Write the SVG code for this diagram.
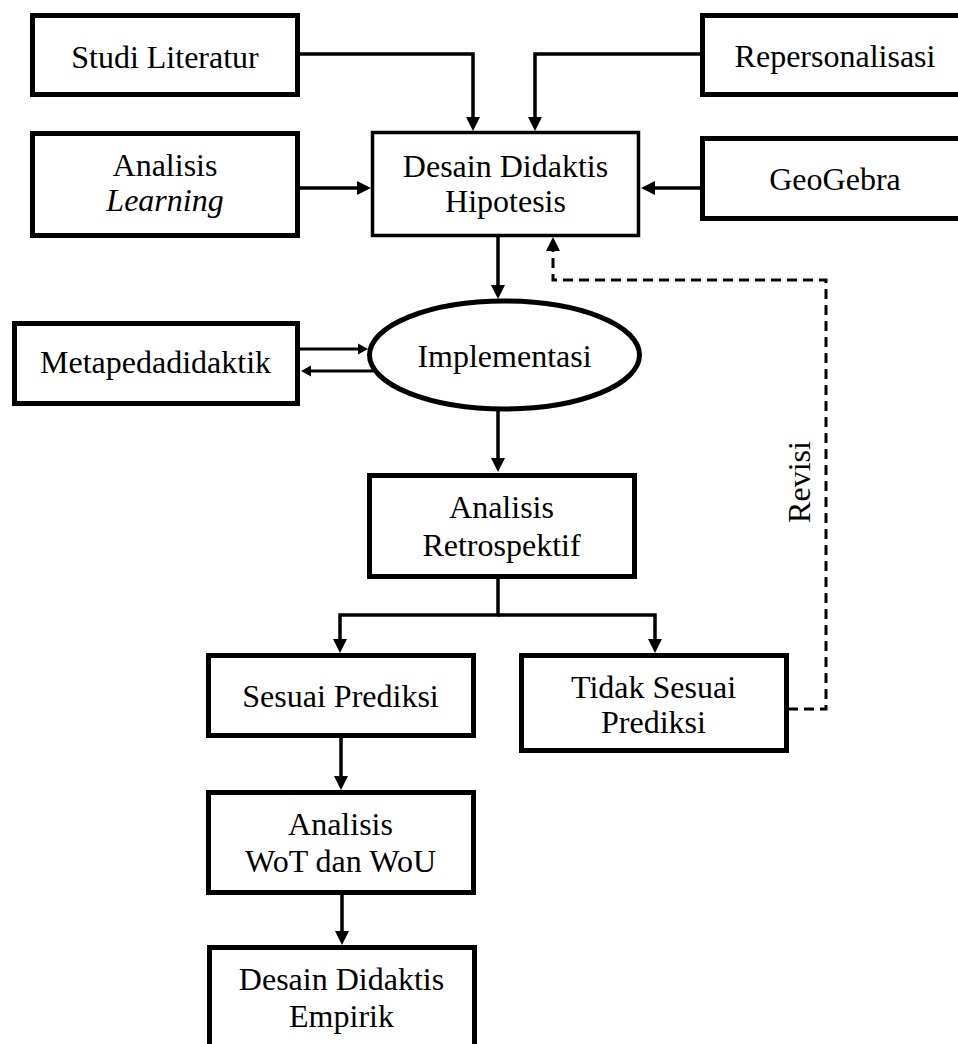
<svg xmlns="http://www.w3.org/2000/svg" width="958" height="1044" viewBox="0 0 958 1044">
<style>
.box{fill:#fff;stroke:#000;stroke-width:5}
.thin{stroke-width:3.5}
.t{font-family:"Liberation Serif","Times New Roman",serif;font-size:32px;fill:#000;text-anchor:middle}
.c{fill:none;stroke:#000;stroke-width:3.5}
.s{stroke-width:3}
.d{stroke-dasharray:10 6;stroke-width:3}
</style>
<defs>
<marker id="ah" markerUnits="userSpaceOnUse" markerWidth="15" markerHeight="14" refX="0" refY="7" orient="auto" overflow="visible">
<path d="M0,0 L14,7 L0,14 Z" fill="#000"/>
</marker>
<marker id="ahs" markerUnits="userSpaceOnUse" markerWidth="11" markerHeight="11" refX="0" refY="5.5" orient="auto" overflow="visible">
<path d="M0,0 L10,5.5 L0,11 Z" fill="#000"/>
</marker>
</defs>
<rect width="958" height="1044" fill="#fff"/>
<g id="connectors">
<path class="c" d="M298,54 H473 V117" marker-end="url(#ah)"/>
<path class="c" d="M702,54 H535 V117" marker-end="url(#ah)"/>
<path class="c" d="M298,188 H357" marker-end="url(#ah)"/>
<path class="c" d="M702,188 H655" marker-end="url(#ah)"/>
<path class="c" d="M498,237 V285" marker-end="url(#ah)"/>
<path class="c s" d="M299,349 H358" marker-end="url(#ahs)"/>
<path class="c s" d="M374,371 H311" marker-end="url(#ahs)"/>
<path class="c" d="M498,411 V458" marker-end="url(#ah)"/>
<path class="c" d="M498,578 V615 H340 V639" marker-end="url(#ah)"/>
<path class="c" d="M498,615 H655 V639" marker-end="url(#ah)"/>
<path class="c" d="M341,737 V776" marker-end="url(#ah)"/>
<path class="c" d="M342,894 V931" marker-end="url(#ah)"/>
<path class="c d" d="M788,709 H826 V280 H553 V251" marker-end="url(#ah)"/>
<text class="t" transform="translate(810,482) rotate(-90)">Revisi</text>
</g>
<g id="studi">
<rect class="box" x="32.5" y="15.5" width="265" height="79"/>
<text class="t" x="165" y="68">Studi Literatur</text>
</g>
<g id="repersonalisasi">
<rect class="box" x="702.5" y="15.5" width="265" height="79"/>
<text class="t" x="835" y="67">Repersonalisasi</text>
</g>
<g id="analisis-learning">
<rect class="box" x="32.5" y="133.5" width="265" height="102"/>
<text class="t" x="165" y="176">Analisis</text>
<text class="t" x="165" y="211" font-style="italic">Learning</text>
</g>
<g id="desain-hipotesis">
<rect class="box thin" x="372.5" y="132.5" width="266" height="103"/>
<text class="t" x="505.5" y="177">Desain Didaktis</text>
<text class="t" x="505.5" y="212">Hipotesis</text>
</g>
<g id="geogebra">
<rect class="box" x="702.5" y="138.5" width="265" height="80"/>
<text class="t" x="835" y="190">GeoGebra</text>
</g>
<g id="metapedadidaktik">
<rect class="box" x="14.5" y="323.5" width="283" height="80"/>
<text class="t" x="155.5" y="373">Metapedadidaktik</text>
</g>
<g id="implementasi">
<ellipse class="box" cx="504.5" cy="355" rx="135" ry="54"/>
<text class="t" x="504.5" y="367">Implementasi</text>
</g>
<g id="analisis-retrospektif">
<rect class="box" x="369.5" y="475.5" width="265" height="101"/>
<text class="t" x="501.5" y="518">Analisis</text>
<text class="t" x="501.5" y="556">Retrospektif</text>
</g>
<g id="sesuai">
<rect class="box" x="208.5" y="655.5" width="265" height="80"/>
<text class="t" x="340.5" y="707">Sesuai Prediksi</text>
</g>
<g id="tidak-sesuai">
<rect class="box" x="521.5" y="655.5" width="265" height="95"/>
<text class="t" x="653.5" y="698">Tidak Sesuai</text>
<text class="t" x="653.5" y="733">Prediksi</text>
</g>
<g id="analisis-wot">
<rect class="box" x="208.5" y="792.5" width="265" height="100"/>
<text class="t" x="340.5" y="835">Analisis</text>
<text class="t" x="340.5" y="872">WoT dan WoU</text>
</g>
<g id="desain-empirik">
<rect class="box" x="209.5" y="947.5" width="265" height="110"/>
<text class="t" x="341.5" y="990">Desain Didaktis</text>
<text class="t" x="341.5" y="1027">Empirik</text>
</g>
</svg>
